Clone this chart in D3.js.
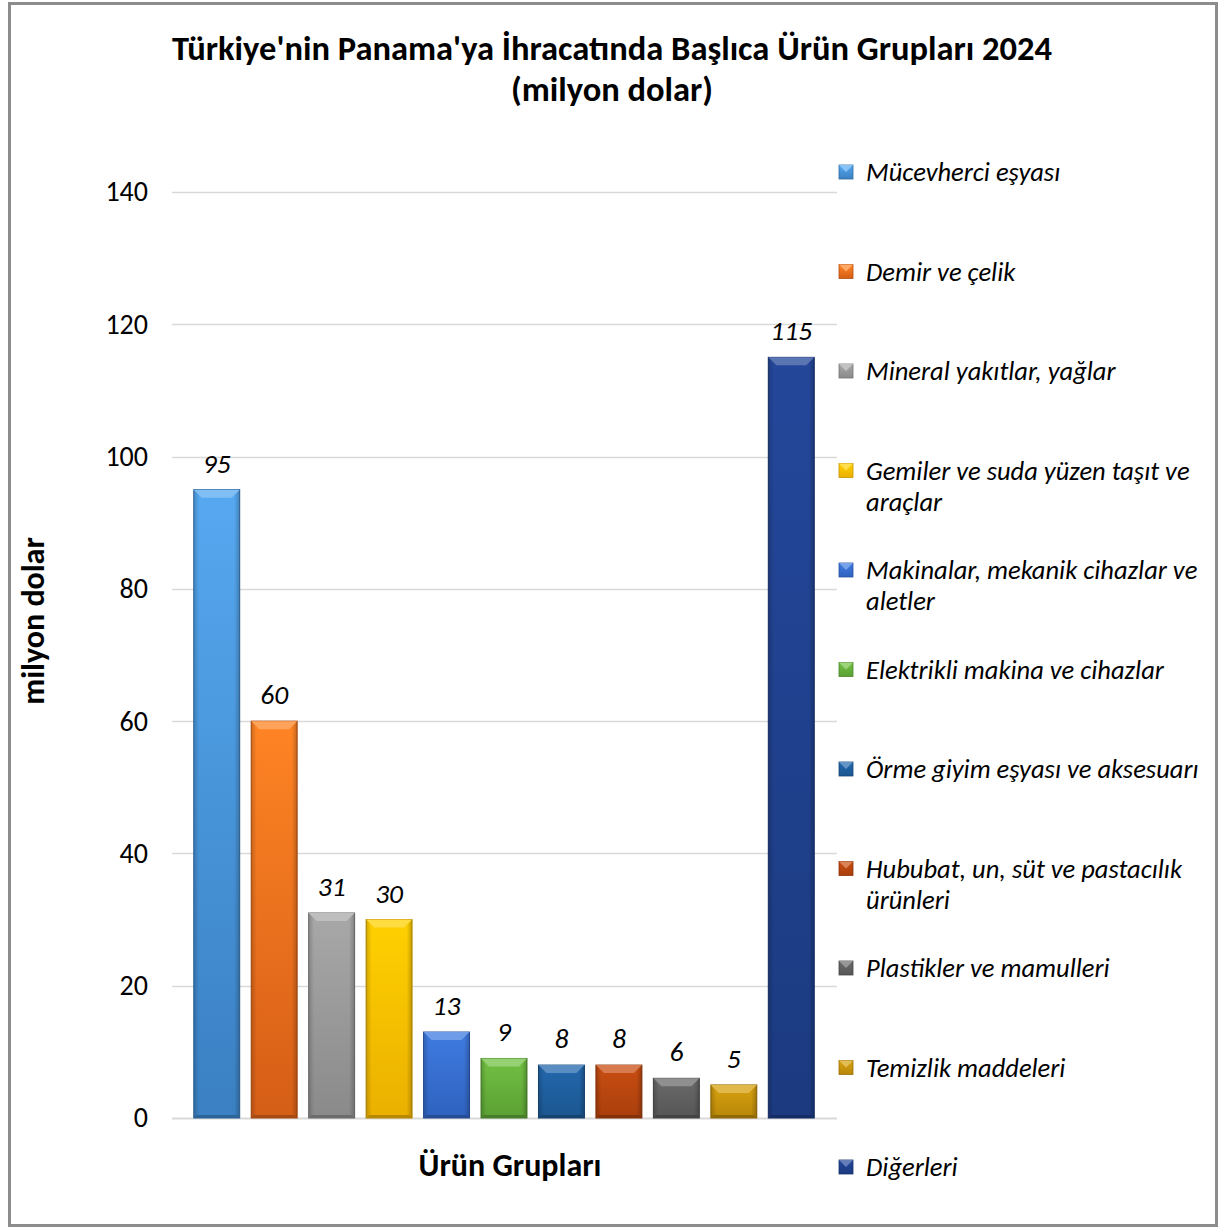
<!DOCTYPE html>
<html><head><meta charset="utf-8">
<script src="https://cdn.jsdelivr.net/npm/d3@7"></script>
<style>
html,body{margin:0;padding:0;background:#fff;}
svg{display:block;font-family:Carlito,Calibri,Lato,sans-serif;}
</style></head>
<body>
<svg id="chart" width="1219" height="1231"></svg>
<script>
const categories = ["Mücevherci eşyası","Demir ve çelik","Mineral yakıtlar, yağlar","Gemiler ve suda yüzen taşıt ve araçlar","Makinalar, mekanik cihazlar ve aletler","Elektrikli makina ve cihazlar","Örme giyim eşyası ve aksesuarı","Hububat, un, süt ve pastacılık ürünleri","Plastikler ve mamulleri","Temizlik maddeleri","Diğerleri"];
const values = [95, 60, 31, 30, 13, 9, 8, 8, 6, 5, 115];
const legendLines = [["Mücevherci eşyası"],["Demir ve çelik"],["Mineral yakıtlar, yağlar"],["Gemiler ve suda yüzen taşıt ve","araçlar"],["Makinalar, mekanik cihazlar ve","aletler"],["Elektrikli makina ve cihazlar"],["Örme giyim eşyası ve aksesuarı"],["Hububat, un, süt ve pastacılık","ürünleri"],["Plastikler ve mamulleri"],["Temizlik maddeleri"],["Diğerleri"]];
const colorsTop = ["#56a8f0","#ff8424","#a8a8a8","#ffd000","#3f7be0","#72c043","#2368ad","#c94e12","#6a6a6a","#d7a10e","#24479a"];
const colorsBottom = ["#3a80c2","#d55e17","#8a8a8a","#eab000","#2f62bf","#5aa033","#1b5690","#a93e0c","#565656","#b8870a","#1b3a80"];
const yTicks = [0, 20, 40, 60, 80, 100, 120, 140];
const titleLines = ["Türkiye'nin Panama'ya İhracatında Başlıca Ürün Grupları 2024","(milyon dolar)"];

const svg = d3.select("#chart");
const defs = svg.append("defs");

// border
svg.append("rect").attr("x",9.5).attr("y",3.5).attr("width",1207).attr("height",1222)
  .attr("fill","#fff").attr("stroke","#8c8c8c").attr("stroke-width",3);

const y = d3.scaleLinear().domain([0,140]).range([1118,192]);
const x = d3.scaleBand().domain(categories).range([188,820]).paddingInner(0.2).paddingOuter(0.1);

// gridlines
svg.append("g").selectAll("line").data(yTicks).join("line")
  .attr("x1",172).attr("x2",837)
  .attr("y1",d=>Math.round(y(d))+0.5).attr("y2",d=>Math.round(y(d))+0.5)
  .attr("stroke","#d9d9d9").attr("stroke-width",d=>d===0?2:1.3);

// y axis tick labels
const yAxis = d3.axisLeft(y).tickValues(yTicks).tickSize(0).tickPadding(0);
const ga = svg.append("g").attr("transform","translate(148,0)").call(yAxis);
ga.select(".domain").remove();
ga.selectAll("text").attr("font-size",28).attr("fill","#000")
  .attr("font-family","Carlito,Calibri,Lato,sans-serif");

// gradients
categories.forEach((c,i)=>{
  const g = defs.append("linearGradient").attr("id","g"+i).attr("x1",0).attr("y1",0).attr("x2",0).attr("y2",1);
  g.append("stop").attr("offset","0%").attr("stop-color",colorsTop[i]);
  g.append("stop").attr("offset","100%").attr("stop-color",colorsBottom[i]);
  const h = defs.append("linearGradient").attr("id","h"+i).attr("x1",0).attr("y1",0).attr("x2",1).attr("y2",0);
  h.append("stop").attr("offset","0%").attr("stop-color","#000").attr("stop-opacity",0.18);
  h.append("stop").attr("offset","12%").attr("stop-color","#000").attr("stop-opacity",0);
  h.append("stop").attr("offset","88%").attr("stop-color","#000").attr("stop-opacity",0);
  h.append("stop").attr("offset","100%").attr("stop-color","#000").attr("stop-opacity",0.22);
});

const bars = svg.append("g").selectAll("g").data(categories).join("g");
bars.append("rect")
  .attr("x",d=>x(d)).attr("width",x.bandwidth())
  .attr("y",(d,i)=>y(values[i])).attr("height",(d,i)=>y(0)-y(values[i]))
  .attr("fill",(d,i)=>`url(#g${i})`)
  .attr("stroke",(d,i)=>d3.color(colorsBottom[i]).darker(0.6)).attr("stroke-width",1);
bars.append("rect")
  .attr("x",d=>x(d)).attr("width",x.bandwidth())
  .attr("y",(d,i)=>y(values[i])).attr("height",(d,i)=>y(0)-y(values[i]))
  .attr("fill",(d,i)=>`url(#h${i})`);
// top bevel
bars.append("path")
  .attr("d",(d,i)=>{
    const x0=x(d), x1=x(d)+x.bandwidth(), t=y(values[i]), b=Math.min(8, (y(0)-y(values[i]))/2);
    return `M${x0},${t}L${x1},${t}L${x1-b},${t+b}L${x0+b},${t+b}Z`;
  })
  .attr("fill",(d,i)=>d3.interpolateRgb(colorsTop[i],"#fff")(0.25));
// bottom bevel
bars.append("path")
  .attr("d",(d,i)=>{
    const x0=x(d), x1=x(d)+x.bandwidth(), bt=y(0), b=3;
    return `M${x0},${bt}L${x1},${bt}L${x1-b},${bt-b}L${x0+b},${bt-b}Z`;
  })
  .attr("fill",(d,i)=>d3.color(colorsBottom[i]).darker(0.7));

// data labels
svg.append("g").selectAll("text").data(categories).join("text")
  .attr("x",d=>x(d)+x.bandwidth()/2)
  .attr("y",(d,i)=>y(values[i])-17)
  .attr("text-anchor","middle").attr("font-size",27.5).attr("font-style","italic").attr("fill","#000")
  .text((d,i)=>values[i]);

// title
svg.append("g").selectAll("text").data(titleLines).join("text")
  .attr("x",612).attr("y",(d,i)=>60+i*41)
  .attr("text-anchor","middle").attr("font-size",34.5).attr("font-weight","bold").attr("fill","#000")
  .text(d=>d);

// axis titles
svg.append("text").attr("transform","translate(44,621) rotate(-90)")
  .attr("text-anchor","middle").attr("font-size",32).attr("font-weight","bold").text("milyon dolar");
svg.append("text").attr("x",510).attr("y",1176)
  .attr("text-anchor","middle").attr("font-size",32).attr("font-weight","bold").text("Ürün Grupları");

// legend
const lg = svg.append("g").selectAll("g").data(categories).join("g")
  .attr("transform",(d,i)=>`translate(0,${171+i*99.5})`);
lg.append("rect").attr("x",839).attr("y",-6).attr("width",14).attr("height",14)
  .attr("fill",(d,i)=>`url(#g${i})`).attr("stroke",(d,i)=>d3.color(colorsBottom[i]).darker(0.5)).attr("stroke-width",0.8);
lg.append("path").attr("d","M839,-6L853,-6L846,1Z").attr("fill",(d,i)=>d3.interpolateRgb(colorsTop[i],"#fff")(0.3));
lg.each(function(d,i){
  const t = d3.select(this).append("text").attr("x",866).attr("y",10)
    .attr("font-size",26.5).attr("font-style","italic").attr("fill","#000");
  legendLines[i].forEach((ln,j)=>{
    t.append("tspan").attr("x",866).attr("dy",j===0?0:31).text(ln);
  });
});
</script>
</body></html>
